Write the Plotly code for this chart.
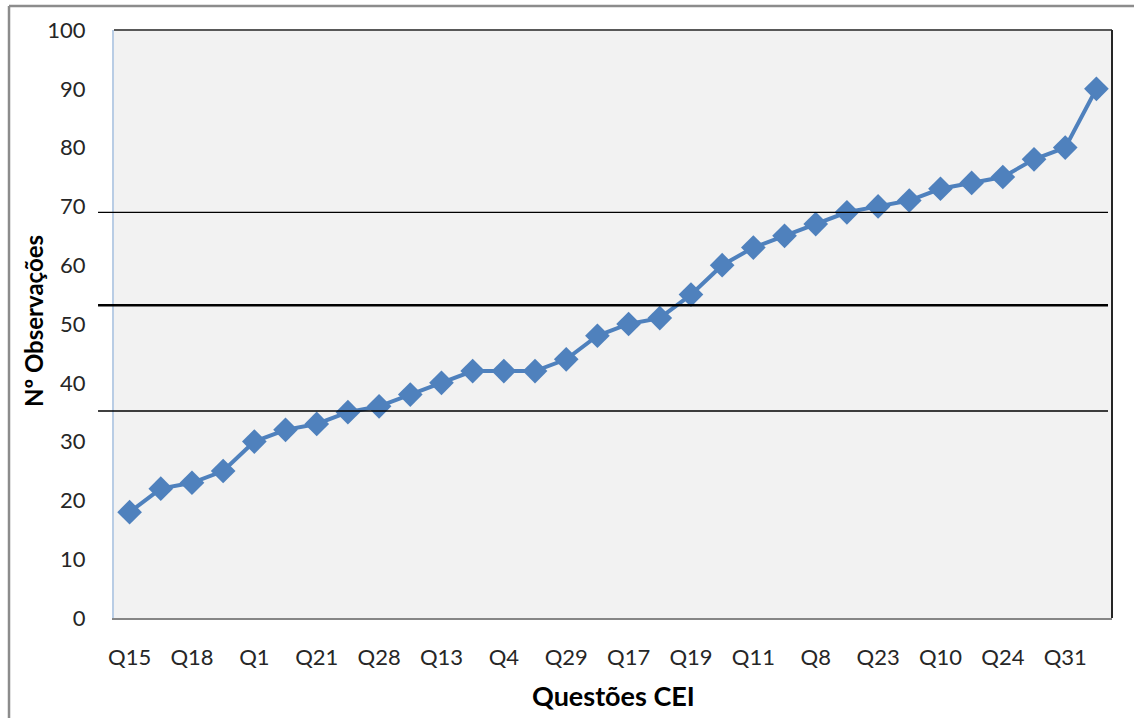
import plotly.graph_objects as go

categories = ["Q15", "Q3", "Q18", "Q7", "Q1", "Q5", "Q21", "Q26", "Q28", "Q2",
              "Q13", "Q20", "Q4", "Q9", "Q29", "Q16", "Q17", "Q6", "Q19", "Q14",
              "Q11", "Q22", "Q8", "Q25", "Q23", "Q12", "Q10", "Q27", "Q24", "Q30",
              "Q31", "Q32"]
observacoes = [18, 22, 23, 25, 30, 32, 33, 35, 36, 38,
               40, 42, 42, 42, 44, 48, 50, 51, 55, 60,
               63, 65, 67, 69, 70, 71, 73, 74, 75, 78,
               80, 90]
ref_levels = [35.2, 53.2, 69.0]
ref_widths = [1.5, 2.5, 1.2]
y_ticks = list(range(0, 101, 10))
shown_labels = categories[::2]

FONT = "Lato"
BLUE = "#4F81BD"

fig = go.Figure()
fig.add_trace(go.Scatter(
    x=categories, y=observacoes, mode="lines+markers",
    line=dict(color=BLUE, width=4),
    marker=dict(symbol="diamond", size=19, color=BLUE),
    showlegend=False,
))

shapes = []
for lvl, w in zip(ref_levels, ref_widths):
    shapes.append(dict(type="line", xref="paper", yref="y", x0=-0.016, x1=0.996,
                       y0=lvl, y1=lvl, line=dict(color="black", width=w), layer="above"))
# plot area borders
shapes.append(dict(type="line", xref="paper", yref="paper", x0=0, x1=1, y0=1, y1=1,
                   line=dict(color="#595959", width=2)))
shapes.append(dict(type="line", xref="paper", yref="paper", x0=1, x1=1, y0=0, y1=1,
                   line=dict(color="#262626", width=2)))
# outer chart border (left and top)
shapes.append(dict(type="line", xref="paper", yref="paper", x0=-0.1052, x1=-0.1052,
                   y0=1.0408, y1=-0.2, line=dict(color="#8C8C8C", width=2.5)))
shapes.append(dict(type="line", xref="paper", yref="paper", x0=-0.1052, x1=1.05,
                   y0=1.0408, y1=1.0408, line=dict(color="#8C8C8C", width=2.5)))

fig.update_layout(
    width=1134, height=718,
    margin=dict(l=114, r=22, t=30, b=100),
    paper_bgcolor="white", plot_bgcolor="#F2F2F2",
    font=dict(family=FONT, size=22, color="#262626"),
    shapes=shapes,
    annotations=[
        dict(text="<b>Questões CEI</b>", xref="paper", yref="paper", x=0.5, y=-0.131,
             showarrow=False, font=dict(family=FONT, size=27, color="black"),
             xanchor="center", yanchor="middle"),
        dict(text="<b>Nº Observações</b>", xref="paper", yref="paper", x=-0.0812, y=0.505,
             showarrow=False, textangle=-90, font=dict(family=FONT, size=24, color="black"),
             xanchor="center", yanchor="middle"),
    ],
)
fig.update_xaxes(
    type="category", categoryorder="array", categoryarray=categories,
    range=[-0.5, len(categories) - 0.5],
    tickmode="array", tickvals=shown_labels, ticktext=shown_labels,
    showgrid=False, zeroline=False,
    showline=True, linecolor="#868686", linewidth=2,
    ticks="", ticklabelstandoff=19,
)
fig.update_yaxes(
    range=[0, 100], tickmode="array", tickvals=y_ticks,
    showgrid=False, zeroline=False,
    showline=True, linecolor="#B9CDE5", linewidth=2,
    ticks="", ticklabelstandoff=22,
)

fig.write_html("out.html")
